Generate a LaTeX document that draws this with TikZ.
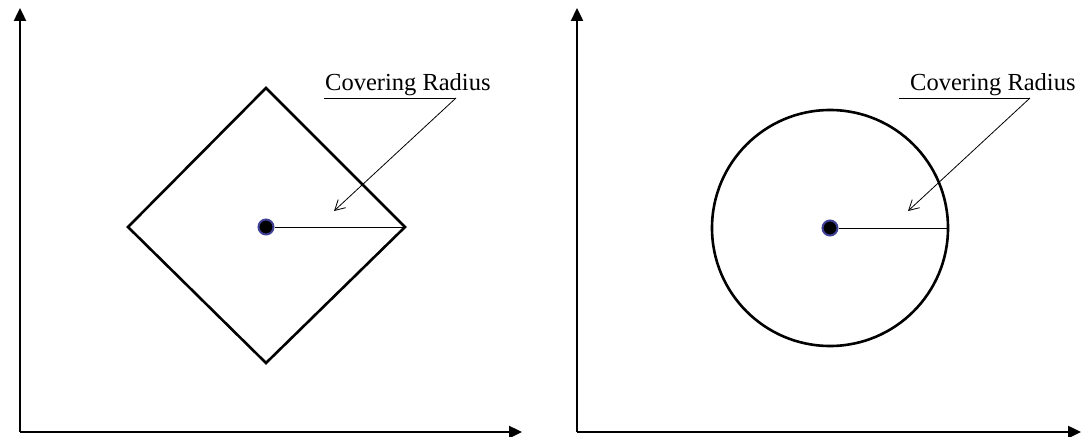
\documentclass[tikz,border=0pt]{standalone}
\usepackage{fontspec}
\setmainfont{Liberation Serif}
\usetikzlibrary{arrows.meta,positioning,calc}

\begin{document}
\begin{tikzpicture}[x=1pt,y=-1pt,
  axis/.style={line width=2.4pt,-{Triangle[length=13pt,width=12pt]}},
  outline/.style={line width=2.6pt},
  radline/.style={line width=1pt},
  centre/.style={circle,fill=black,draw=blue!45!black!75,line width=2pt,inner sep=0pt,minimum size=15pt},
  lbl/.style={font=\fontsize{24.5}{28}\selectfont,inner sep=0pt,anchor=base west},
  pointer/.style={line width=0.8pt,-{Straight Barb[length=10pt,width=11pt]}}]
  \useasboundingbox (0,0) rectangle (1083,436);
  % left: square
  \coordinate (o1) at (20,432);
  \coordinate (y1) at (20,8);
  \coordinate (x1) at (522,432);
  \draw[axis] (o1) -- (y1);
  \draw[axis] (o1) -- (x1);
  \node[centre] (c1) at (266,227) {};
  \coordinate (t1) at (266,88);
  \coordinate (l1) at (128,227);
  \coordinate (r1) at (405,227);
  \coordinate (b1) at (266,363);
  \draw[outline,line join=miter] (t1) -- (r1) -- (b1) -- (l1) -- cycle;
  \draw[radline] (c1) -- (r1);
  \node[lbl] (cr1) at (325,90) {Covering Radius};
  \coordinate (u1a) at (324,98);
  \coordinate (u1b) at (456,98);
  \coordinate (p1) at (334,211);
  \draw[radline] (u1a) -- (u1b);
  \draw[pointer] (u1b) -- (p1);
  % right: circle
  \coordinate (o2) at (577,432);
  \coordinate (y2) at (577,8);
  \coordinate (x2) at (1081,432);
  \draw[axis] (o2) -- (y2);
  \draw[axis] (o2) -- (x2);
  \node[centre] (c2) at (830,228) {};
  \draw[outline] (c2.center) circle[radius=118];
  \coordinate (r2) at (948,228);
  \draw[radline] (c2) -- (r2);
  \node[lbl] (cr2) at (910,90) {Covering Radius};
  \coordinate (u2a) at (899,98);
  \coordinate (u2b) at (1030,98);
  \coordinate (p2) at (908,211);
  \draw[radline] (u2a) -- (u2b);
  \draw[pointer] (u2b) -- (p2);
\end{tikzpicture}
\end{document}
